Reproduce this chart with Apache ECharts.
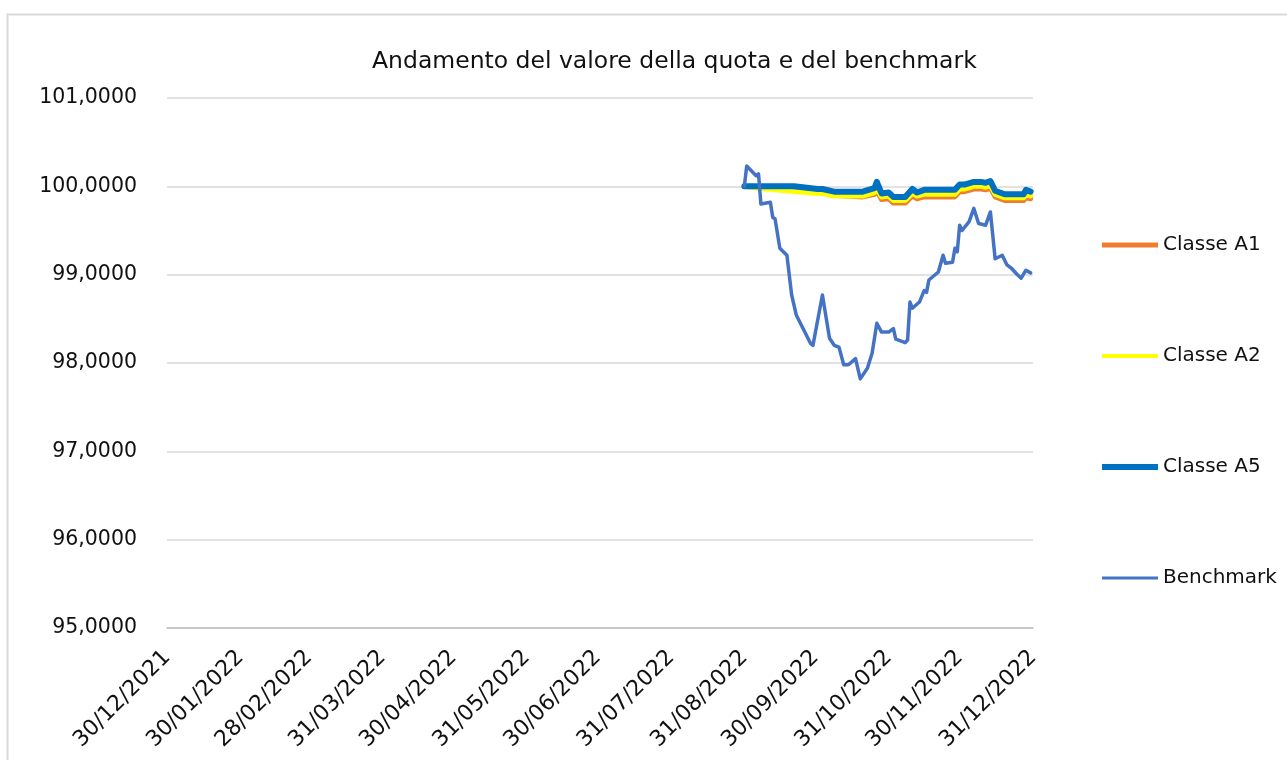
<!DOCTYPE html>
<html>
<head>
<meta charset="utf-8">
<script src="https://cdn.jsdelivr.net/npm/echarts@6/dist/echarts.min.js"></script>
<style>
  html, body { margin: 0; padding: 0; background: #fff; }
  #chart { width: 1287px; height: 760px; }
</style>
</head>
<body>
<div id="chart"></div>
<script>
// asse x: date delle etichette
var tickDates = ['2021-12-30', '2022-01-30', '2022-02-28', '2022-03-31', '2022-04-30', '2022-05-31',
    '2022-06-30', '2022-07-31', '2022-08-31', '2022-09-30', '2022-10-31', '2022-11-30', '2022-12-31'];

// classi del fondo
var classDates = ['2022-08-31', '2022-09-05', '2022-09-21', '2022-10-01', '2022-10-03', '2022-10-08',
    '2022-10-20', '2022-10-25', '2022-10-26', '2022-10-28', '2022-10-31', '2022-11-02', '2022-11-07',
    '2022-11-10', '2022-11-12', '2022-11-15', '2022-11-28', '2022-11-30', '2022-12-02', '2022-12-06',
    '2022-12-09', '2022-12-11', '2022-12-13', '2022-12-15', '2022-12-19', '2022-12-27', '2022-12-28',
    '2022-12-30'];
var classeA1 = [100.00, 99.99, 99.97, 99.94, 99.93, 99.90, 99.88, 99.91, 99.95, 99.85, 99.86, 99.81, 99.81,
    99.89, 99.86, 99.88, 99.88, 99.94, 99.94, 99.97, 99.97, 99.96, 99.98, 99.88, 99.84, 99.84, 99.87, 99.86];
var classeA2 = [100.00, 99.98, 99.94, 99.92, 99.92, 99.89, 99.89, 99.93, 99.97, 99.88, 99.89, 99.84, 99.84,
    99.92, 99.89, 99.91, 99.91, 99.97, 99.97, 100.00, 100.00, 99.99, 100.01, 99.91, 99.87, 99.87, 99.90, 99.89];
var classeA5 = [100.00, 100.00, 100.00, 99.97, 99.97, 99.94, 99.94, 99.98, 100.05, 99.92, 99.93, 99.88, 99.88,
    99.97, 99.93, 99.96, 99.96, 100.02, 100.02, 100.05, 100.05, 100.04, 100.06, 99.95, 99.91, 99.91, 99.96, 99.94];

// benchmark
var benchDates = ['2022-08-31', '2022-09-01', '2022-09-05', '2022-09-06', '2022-09-07', '2022-09-11',
    '2022-09-12', '2022-09-13', '2022-09-15', '2022-09-18', '2022-09-20', '2022-09-22', '2022-09-28',
    '2022-09-29', '2022-10-03', '2022-10-06', '2022-10-08', '2022-10-10', '2022-10-12', '2022-10-14',
    '2022-10-17', '2022-10-19', '2022-10-22', '2022-10-24', '2022-10-26', '2022-10-28', '2022-10-31',
    '2022-11-02', '2022-11-03', '2022-11-07', '2022-11-08', '2022-11-09', '2022-11-10', '2022-11-13',
    '2022-11-15', '2022-11-16', '2022-11-17', '2022-11-21', '2022-11-23', '2022-11-24', '2022-11-27',
    '2022-11-28', '2022-11-29', '2022-11-30', '2022-12-01', '2022-12-04', '2022-12-06', '2022-12-08',
    '2022-12-11', '2022-12-13', '2022-12-15', '2022-12-18', '2022-12-20', '2022-12-22', '2022-12-24',
    '2022-12-26', '2022-12-28', '2022-12-30'];
var benchmark = [100.00, 100.23, 100.12, 100.14, 99.80, 99.82, 99.65, 99.63, 99.30, 99.22, 98.77, 98.54, 98.22,
    98.20, 98.77, 98.28, 98.20, 98.18, 97.98, 97.98, 98.05, 97.82, 97.94, 98.11, 98.45, 98.35, 98.35,
    98.39, 98.27, 98.23, 98.26, 98.69, 98.62, 98.69, 98.82, 98.80, 98.94, 99.03, 99.22, 99.13, 99.14,
    99.30, 99.26, 99.56, 99.50, 99.60, 99.75, 99.58, 99.56, 99.71, 99.18, 99.22, 99.11, 99.07, 99.01,
    98.96, 99.05, 99.02];

var FONT = 'DejaVu Sans';

function toTime(s) {
    var p = s.split('-');
    return new Date(+p[0], +p[1] - 1, +p[2]).getTime();
}
function pairs(dates, vals) {
    return dates.map(function (d, i) { return [toTime(d), vals[i]]; });
}
function pad(n) { return n < 10 ? '0' + n : '' + n; }
// icona legenda: barra orizzontale di spessore h
function bar(h) { return 'path://M0,0H56V' + h + 'H0Z'; }

var chart = echarts.init(document.getElementById('chart'));
var option = {
    animation: false,
    backgroundColor: '#fff',
    title: {
        text: 'Andamento del valore della quota e del benchmark',
        left: 367,
        top: 45,
        textStyle: { fontFamily: FONT, fontSize: 23.5, fontWeight: 'normal', color: '#111' }
    },
    legend: {
        orient: 'vertical',
        left: 1097,
        top: 230,
        itemWidth: 56,
        itemHeight: 20,
        itemGap: 91,
        textStyle: { fontFamily: FONT, fontSize: 20, color: '#111' },
        data: [
            { name: 'Classe A1', icon: bar(5) },
            { name: 'Classe A2', icon: bar(4) },
            { name: 'Classe A5', icon: bar(6) },
            { name: 'Benchmark', icon: bar(3) }
        ]
    },
    grid: { left: 167, right: 254, top: 98, bottom: 132 },
    xAxis: {
        type: 'value',
        min: toTime(tickDates[0]),
        max: toTime(tickDates[tickDates.length - 1]),
        axisLine: { lineStyle: { color: '#bfbfbf', width: 1.5 } },
        axisTick: { show: false },
        splitLine: { show: false },
        axisLabel: {
            customValues: tickDates.map(toTime),
            rotate: 45,
            margin: 26,
            fontFamily: FONT,
            fontSize: 22,
            color: '#111',
            formatter: function (v) {
                var d = new Date(v);
                return pad(d.getDate()) + '/' + pad(d.getMonth() + 1) + '/' + d.getFullYear();
            }
        }
    },
    yAxis: {
        type: 'value',
        min: 95,
        max: 101,
        interval: 1,
        axisLine: { show: false },
        axisTick: { show: false },
        splitLine: { lineStyle: { color: '#d9d9d9', width: 1.5 } },
        axisLabel: {
            margin: 30,
            fontFamily: FONT,
            fontSize: 20.5,
            color: '#111',
            formatter: function (v) { return v.toFixed(4).replace('.', ','); }
        }
    },
    series: [
        {
            name: 'Classe A1', type: 'line', symbol: 'none',
            data: pairs(classDates, classeA1),
            lineStyle: { color: '#ED7D31', width: 5, cap: 'round', join: 'round' }, itemStyle: { color: '#ED7D31' }
        },
        {
            name: 'Classe A2', type: 'line', symbol: 'none',
            data: pairs(classDates, classeA2),
            lineStyle: { color: '#FFFF00', width: 5, cap: 'round', join: 'round' }, itemStyle: { color: '#FFFF00' }
        },
        {
            name: 'Classe A5', type: 'line', symbol: 'none',
            data: pairs(classDates, classeA5),
            lineStyle: { color: '#0070C0', width: 6, cap: 'round', join: 'round' }, itemStyle: { color: '#0070C0' }
        },
        {
            name: 'Benchmark', type: 'line', symbol: 'none',
            data: pairs(benchDates, benchmark),
            lineStyle: { color: '#4472C4', width: 3.5, cap: 'round', join: 'round' }, itemStyle: { color: '#4472C4' }
        }
    ],
    graphic: [{
        type: 'rect',
        left: 5, top: 12,
        shape: { width: 1300, height: 800 },
        style: { fill: null, stroke: '#d9d9d9', lineWidth: 2 },
        silent: true
    }]
};
chart.setOption(option);
</script>
</body>
</html>
